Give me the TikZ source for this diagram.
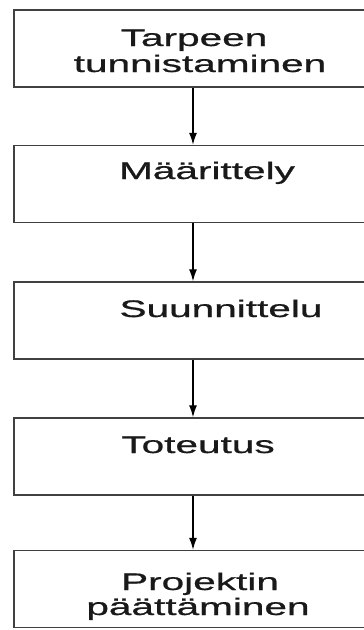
\documentclass[tikz,border=0pt]{standalone}
\usepackage{fontspec}
\setmainfont{Liberation Sans}
\newfontfamily\stagefont[FakeBold=0.6]{Liberation Sans}
\usetikzlibrary{arrows.meta}
\tikzset{
  stagebox/.style={draw=black!75, line width=1.4pt, rectangle, minimum width=358pt, minimum height=77pt, inner sep=0pt},
  stagetext/.style={anchor=base, inner sep=0pt, font=\stagefont\fontsize{24pt}{24pt}\selectfont, text=black!90},
  flow/.style={line width=1.3pt, draw=black, -{Latex[length=12pt,width=8pt]}}
}
\newcommand{\wide}[1]{\scalebox{1.69}[1]{#1}}
\begin{document}
\begin{tikzpicture}[x=1pt,y=-1pt]
\useasboundingbox (0,0) rectangle (364,630);
\clip (0,0) rectangle (364,630);
\fill[white] (0,0) rectangle (364,630);
\node[stagebox] (b1) at (193,48.5) {};
\node[stagebox] (b2) at (193,184) {};
\node[stagebox] (b3) at (193,320.5) {};
\node[stagebox] (b4) at (193,456.5) {};
\node[stagebox] (b5) at (193,589) {};
\node[stagetext] (t1a) at (194,46) {\wide{Tarpeen}};
\node[stagetext] (t1b) at (200,72) {\wide{tunnistaminen}};
\node[stagetext] (t2) at (207,179) {\wide{Määrittely}};
\node[stagetext] (t3) at (221,317) {\wide{Suunnittelu}};
\node[stagetext] (t4) at (198,453) {\wide{Toteutus}};
\node[stagetext] (t5a) at (200,590) {\wide{Projektin}};
\node[stagetext] (t5b) at (198,615) {\wide{päättäminen}};
\draw[flow] (b1.south) -- (b2.north);
\draw[flow] (b2.south) -- (b3.north);
\draw[flow] (b3.south) -- (b4.north);
\draw[flow] (b4.south) -- (b5.north);
\end{tikzpicture}
\end{document}
